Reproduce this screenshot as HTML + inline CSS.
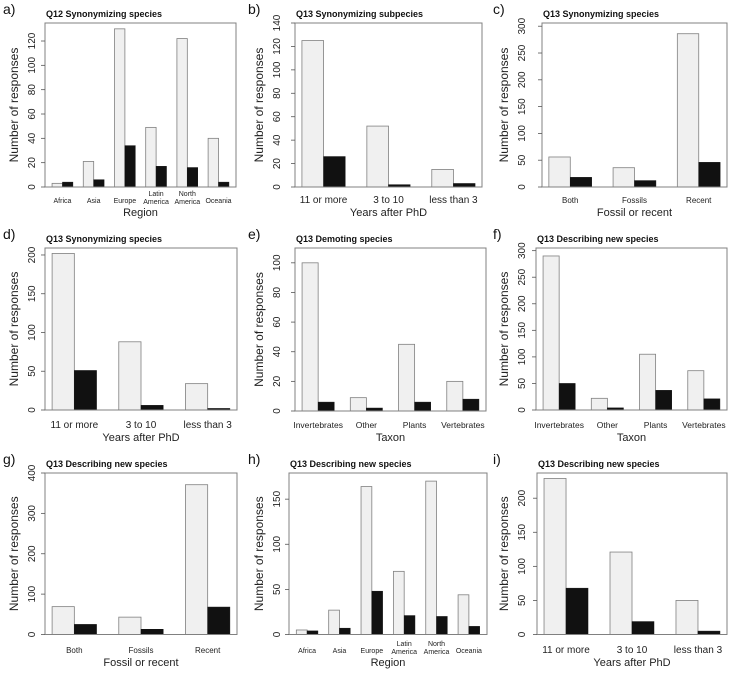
<!DOCTYPE html>
<html><head><meta charset="utf-8"><style>
html,body{margin:0;padding:0;background:#fff;}
svg{display:block;font-family:"Liberation Sans",Arial,sans-serif;}
</style></head><body>
<svg id="chart" width="740" height="674" viewBox="0 0 740 674" xmlns="http://www.w3.org/2000/svg"></svg>
<script>
const catsA = ["Africa","Asia","Europe","Latin\nAmerica","North\nAmerica","Oceania"];
const lightA = [3,21,130,49,122,40];
const darkA = [4,6,34,17,16,4];
const ticksA = [0,20,40,60,80,100,120];
const catsB = ["11 or more","3 to 10","less than 3"];
const lightB = [125,52,15];
const darkB = [26,2,3];
const ticksB = [0,20,40,60,80,100,120,140];
const catsC = ["Both","Fossils","Recent"];
const lightC = [56,36,286];
const darkC = [18,12,46];
const ticksC = [0,50,100,150,200,250,300];
const catsD = ["11 or more","3 to 10","less than 3"];
const lightD = [202,88,34];
const darkD = [51,6,2];
const ticksD = [0,50,100,150,200];
const catsE = ["Invertebrates","Other","Plants","Vertebrates"];
const lightE = [100,9,45,20];
const darkE = [6,2,6,8];
const ticksE = [0,20,40,60,80,100];
const catsF = ["Invertebrates","Other","Plants","Vertebrates"];
const lightF = [290,22,105,74];
const darkF = [50,4,37,21];
const ticksF = [0,50,100,150,200,250,300];
const catsG = ["Both","Fossils","Recent"];
const lightG = [69,43,371];
const darkG = [25,13,68];
const ticksG = [0,100,200,300,400];
const catsH = ["Africa","Asia","Europe","Latin\nAmerica","North\nAmerica","Oceania"];
const lightH = [5,27,164,70,170,44];
const darkH = [4,7,48,21,20,9];
const ticksH = [0,50,100,150];
const catsI = ["11 or more","3 to 10","less than 3"];
const lightI = [229,121,50];
const darkI = [68,19,5];
const ticksI = [0,50,100,150,200];

const panels = [
 {id:"a",title:"Q12 Synonymizing species",xt:"Region",cx:0,cy:0,L:45,R:236,T:23,B:187,ymax:134.8,cats:catsA,light:lightA,dark:darkA,ticks:ticksA,fs:7},
 {id:"b",title:"Q13 Synonymizing subpecies",xt:"Years after PhD",cx:245,cy:0,L:50,R:237,T:23,B:187,ymax:140,cats:catsB,light:lightB,dark:darkB,ticks:ticksB,fs:10},
 {id:"c",title:"Q13 Synonymizing species",xt:"Fossil or recent",cx:490,cy:0,L:52,R:237,T:23,B:187,ymax:306,cats:catsC,light:lightC,dark:darkC,ticks:ticksC,fs:8},
 {id:"d",title:"Q13 Synonymizing species",xt:"Years after PhD",cx:0,cy:225,L:45,R:237,T:23,B:185,ymax:209,cats:catsD,light:lightD,dark:darkD,ticks:ticksD,fs:10},
 {id:"e",title:"Q13 Demoting species",xt:"Taxon",cx:245,cy:225,L:50,R:241,T:23,B:186,ymax:110,cats:catsE,light:lightE,dark:darkE,ticks:ticksE,fs:8.5},
 {id:"f",title:"Q13 Describing new species",xt:"Taxon",cx:490,cy:225,L:46,R:237,T:23,B:185,ymax:305,cats:catsF,light:lightF,dark:darkF,ticks:ticksF,fs:8.5},
 {id:"g",title:"Q13 Describing new species",xt:"Fossil or recent",cx:0,cy:450,L:45,R:237,T:23,B:184.5,ymax:400,cats:catsG,light:lightG,dark:darkG,ticks:ticksG,fs:8},
 {id:"h",title:"Q13 Describing new species",xt:"Region",cx:245,cy:450,L:44,R:242,T:23,B:184.5,ymax:179,cats:catsH,light:lightH,dark:darkH,ticks:ticksH,fs:7},
 {id:"i",title:"Q13 Describing new species",xt:"Years after PhD",cx:490,cy:450,L:47,R:237,T:23,B:184.5,ymax:237,cats:catsI,light:lightI,dark:darkI,ticks:ticksI,fs:10}
];

const NS = "http://www.w3.org/2000/svg";
const svg = document.getElementById("chart");
function mk(tag, attrs, parent){
  const e = document.createElementNS(NS, tag);
  for (const k in attrs) e.setAttribute(k, attrs[k]);
  parent.appendChild(e);
  return e;
}

panels.forEach(p => {
  const g = mk("g", {transform:`translate(${p.cx},${p.cy})`}, svg);
  
  
  const n = p.cats.length;
  const range = 3*n - 1;
  const ext = range*0.04;
  const x = u => p.L + (u - 1 + ext) * (p.R - p.L) / (range*1.08);
  const y = v => p.B - v * (p.B - p.T) / p.ymax;

  const lt = mk("text", {x:3, y:14, "font-size":14, fill:"#111"}, g);
  lt.textContent = p.id + ")";
  
  

  const tt = mk("text", {x:p.L+1, y:17, "font-size":9, "font-weight":"bold", fill:"#111"}, g);
  tt.textContent = p.title;
  
  

  for (let i = 0; i < n; i++) {
    const s = 1 + 3*i;
    const b1 = mk("rect", {x:x(s), y:y(p.light[i]), width:x(s+1)-x(s), height:y(0)-y(p.light[i]), fill:"#f0f0f0", stroke:"#808080", "stroke-width":0.8}, g);
    
    
    const b2 = mk("rect", {x:x(s+1), y:y(p.dark[i]), width:x(s+2)-x(s+1), height:y(0)-y(p.dark[i]), fill:"#111", stroke:"#111", "stroke-width":0.5}, g);
    
    
    const cx = x(s+1);
    const lines = p.cats[i].split("\n");
    lines.forEach((ln, k) => {
      const ty = lines.length > 1 ? 196 + k*8 : 203;
      const ct = mk("text", {x:cx, y:ty, "font-size":p.fs, "text-anchor":"middle", fill:"#222"}, g);
      ct.textContent = ln;
      
      
    });
  }

  const box = mk("rect", {x:p.L, y:p.T, width:p.R-p.L, height:p.B-p.T, fill:"none", stroke:"#808080", "stroke-width":1}, g);
  
  

  p.ticks.forEach(t => {
    const ty = y(t);
    const tk = mk("line", {x1:p.L-4, x2:p.L, y1:ty, y2:ty, stroke:"#555", "stroke-width":0.8}, g);
    
    
    const tl = mk("text", {x:0, y:0, "font-size":10, "text-anchor":"middle", fill:"#222", transform:`translate(35,${ty}) rotate(-90)`}, g);
    tl.textContent = t;
    
    
  });

  const yt = mk("text", {x:0, y:0, "font-size":12, "text-anchor":"middle", fill:"#222", transform:`translate(18,${(p.T+p.B)/2}) rotate(-90)`}, g);
  yt.textContent = "Number of responses";
  
  

  const xt = mk("text", {x:(p.L+p.R)/2, y:216, "font-size":11, "text-anchor":"middle", fill:"#222"}, g);
  xt.textContent = p.xt;
  
  
});
</script>
</body></html>
